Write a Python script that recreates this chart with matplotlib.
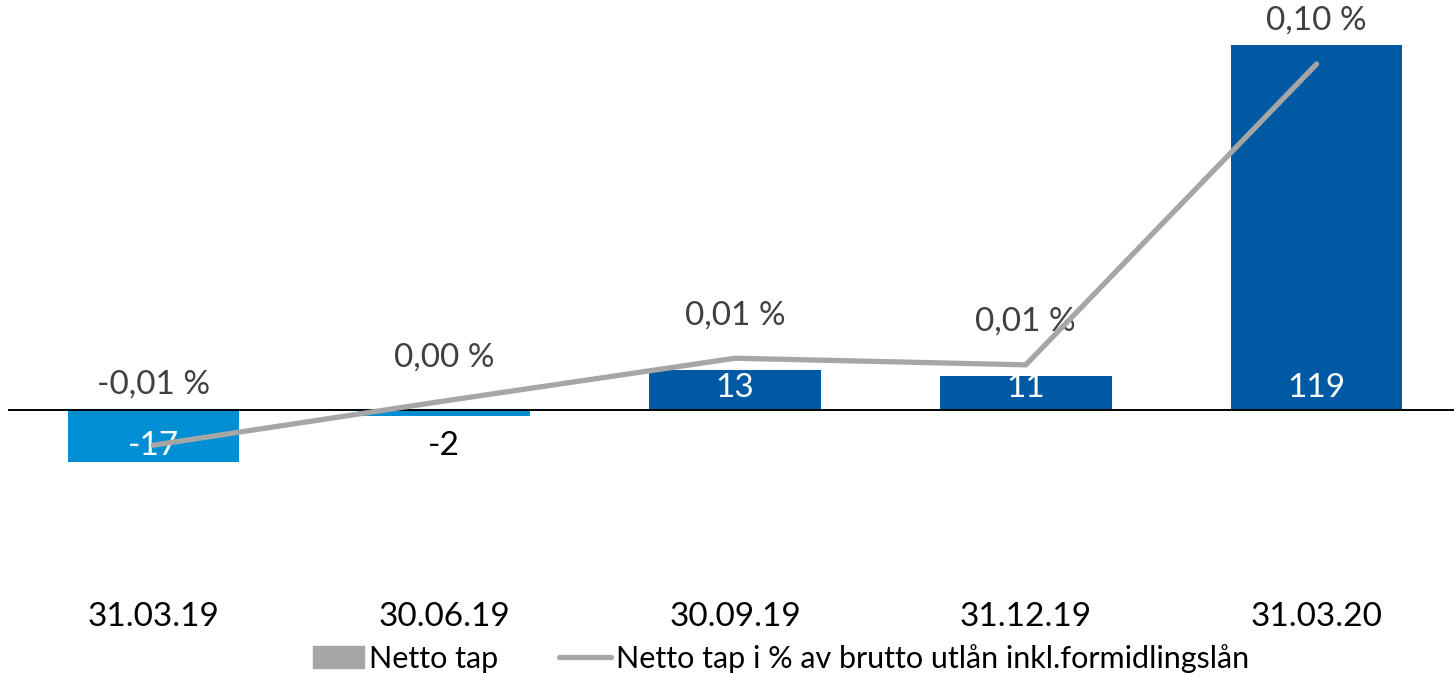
import numpy as np
import matplotlib.pyplot as plt
from matplotlib.patches import Patch
from matplotlib.lines import Line2D

plt.rcParams['font.family'] = ['Lato', 'DejaVu Sans']

dates = ['31.03.19', '30.06.19', '30.09.19', '31.12.19', '31.03.20']
netto_tap = [-17, -2, 13, 11, 119]
tap_pct = [-0.0101, 0.0026, 0.0149, 0.0130, 0.0995]
pct_labels = ['-0,01 %', '0,00 %', '0,01 %', '0,01 %', '0,10 %']

light_blue = '#008FD3'
dark_blue = '#005AA3'
grey = '#A6A6A6'
fs = 24

fig = plt.figure(figsize=(14.54, 6.73), dpi=100)
ax = fig.add_axes([0.0055, 0.138, 1.0, 0.847])
x = np.arange(len(dates))

colors = [light_blue if v < 0 else dark_blue for v in netto_tap]
ax.bar(x, netto_tap, width=0.59, color=colors, zorder=2)
ax.axhline(0, color='black', lw=1.4, zorder=3)
ax.set_xlim(-0.5, 4.5)
ax.set_ylim(-55.4, 130.3)

# bar labels near the base
for xi, v in zip(x, netto_tap):
    if v < 0:
        col = 'white' if v < -10 else 'black'
        ax.annotate(str(v), (xi, 0), xytext=(0, -26), textcoords='offset points',
                    ha='center', va='center', fontsize=fs, color=col, zorder=5)
    else:
        ax.annotate(str(v), (xi, 0), xytext=(0, 16), textcoords='offset points',
                    ha='center', va='center', fontsize=fs, color='white', zorder=5)

ax2 = ax.twinx()
ax2.set_ylim(-0.0489, 0.1150)
ax2.plot(x, tap_pct, color=grey, lw=3.8, solid_capstyle='round', zorder=4)
for xi, v, lab in zip(x, tap_pct, pct_labels):
    off = 44 if v < 0 else 31
    ax2.annotate(lab, (xi, v), xytext=(0, off), textcoords='offset points',
                 ha='center', va='center', fontsize=fs, color='#404040')

for a in (ax, ax2):
    a.set_yticks([])
    for s in a.spines.values():
        s.set_visible(False)
    a.patch.set_visible(False)

ax.set_xticks(x)
ax.set_xticklabels(dates, fontsize=fs)
ax.tick_params(axis='x', length=0, pad=16)

handles = [Patch(color=grey),
           Line2D([0], [0], color=grey, lw=3.8, solid_capstyle='round')]
labels = ['Netto tap', 'Netto tap i % av brutto utlån inkl.formidlingslån']
fig.legend(handles, labels, loc='center', bbox_to_anchor=(0.537, 0.022), ncol=2,
           frameon=False, fontsize=22, handlelength=1.7, handletextpad=0.15,
           columnspacing=2.0, borderpad=0)

fig.savefig('out.png', dpi=100)
